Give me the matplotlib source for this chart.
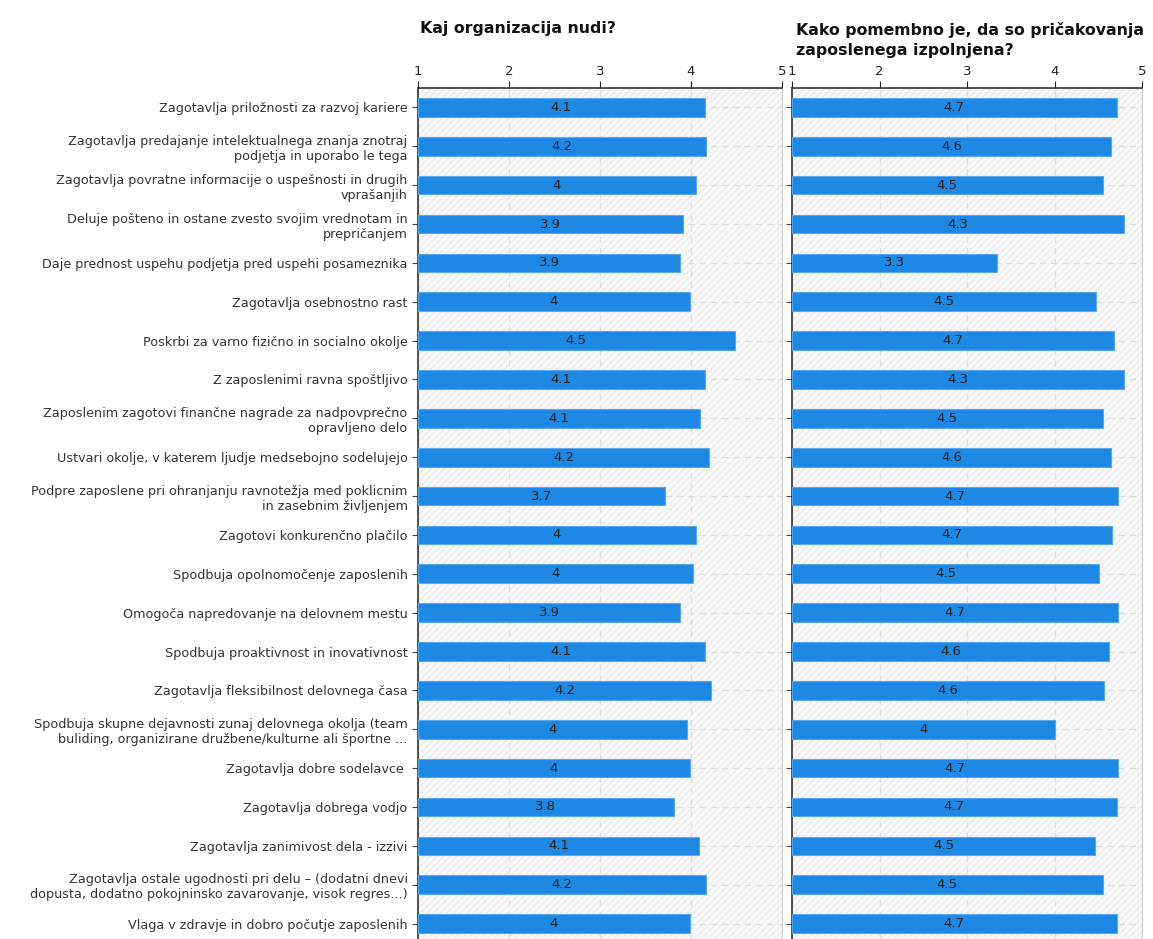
import matplotlib.pyplot as plt
import matplotlib.patches as mpatches

# categories (top to bottom)
categories = [
    "Zagotavlja priložnosti za razvoj kariere",
    "Zagotavlja predajanje intelektualnega znanja znotraj\npodjetja in uporabo le tega",
    "Zagotavlja povratne informacije o uspešnosti in drugih\nvprašanjih",
    "Deluje pošteno in ostane zvesto svojim vrednotam in\nprepričanjem",
    "Daje prednost uspehu podjetja pred uspehi posameznika",
    "Zagotavlja osebnostno rast",
    "Poskrbi za varno fizično in socialno okolje",
    "Z zaposlenimi ravna spoštljivo",
    "Zaposlenim zagotovi finančne nagrade za nadpovprečno\nopravljeno delo",
    "Ustvari okolje, v katerem ljudje medsebojno sodelujejo",
    "Podpre zaposlene pri ohranjanju ravnotežja med poklicnim\nin zasebnim življenjem",
    "Zagotovi konkurenčno plačilo",
    "Spodbuja opolnomočenje zaposlenih",
    "Omogoča napredovanje na delovnem mestu",
    "Spodbuja proaktivnost in inovativnost",
    "Zagotavlja fleksibilnost delovnega časa",
    "Spodbuja skupne dejavnosti zunaj delovnega okolja (team\nbuliding, organizirane družbene/kulturne ali športne ...",
    "Zagotavlja dobre sodelavce ",
    "Zagotavlja dobrega vodjo",
    "Zagotavlja zanimivost dela - izzivi",
    "Zagotavlja ostale ugodnosti pri delu – (dodatni dnevi\ndopusta, dodatno pokojninsko zavarovanje, visok regres...)",
    "Vlaga v zdravje in dobro počutje zaposlenih",
]

# left panel: what the organisation offers
offer_values = [4.15, 4.165, 4.05, 3.91, 3.88, 3.99, 4.48, 4.15, 4.10, 4.20, 3.71,
                4.05, 4.02, 3.88, 4.15, 4.22, 3.96, 3.99, 3.81, 4.09, 4.165, 3.99]
offer_labels = ["4.1", "4.2", "4", "3.9", "3.9", "4", "4.5", "4.1", "4.1", "4.2", "3.7",
                "4", "4", "3.9", "4.1", "4.2", "4", "4", "3.8", "4.1", "4.2", "4"]

# right panel: importance of meeting expectations
importance_values = [4.71, 4.65, 4.55, 4.79, 3.34, 4.47, 4.68, 4.79, 4.55, 4.65, 4.73,
                     4.66, 4.51, 4.73, 4.62, 4.57, 4.01, 4.73, 4.71, 4.46, 4.55, 4.71]
importance_labels = ["4.7", "4.6", "4.5", "4.3", "3.3", "4.5", "4.7", "4.3", "4.5", "4.6", "4.7",
                     "4.7", "4.5", "4.7", "4.6", "4.6", "4", "4.7", "4.7", "4.5", "4.5", "4.7"]

ticks = [1, 2, 3, 4, 5]
bar_color = "#1e88e5"

W, H = 1153, 939
fig = plt.figure(figsize=(W / 100, H / 100), dpi=100)
plt.rcParams['hatch.linewidth'] = 0.6
plt.rcParams['hatch.color'] = '#e4e4e4'

top = 1 - 88 / H
height = 855 / H
bottom = top - height
ax1 = fig.add_axes([418 / W, bottom, (782 - 418) / W, height])
ax2 = fig.add_axes([792 / W, bottom, (1142 - 792) / W, height])

ypos = list(range(len(categories)))


def style_panel(ax, values, labels):
    ax.set_facecolor('#f8f8f8')
    ax.add_patch(mpatches.Rectangle((0, 0), 1, 1, transform=ax.transAxes, fill=False,
                                    hatch='/////', edgecolor='#e6e6e6', lw=0, zorder=0))
    ax.barh(ypos, [v - 1 for v in values], left=1, height=0.48, color=bar_color,
            edgecolor='#5aa9ee', linewidth=0.8, zorder=3)
    for y, v, lab in zip(ypos, values, labels):
        ax.text((1 + v) / 2, y, lab, ha='center', va='center', fontsize=9.5,
                color='#222222', zorder=4)
    ax.set_xlim(1, 5)
    ax.set_ylim(len(categories) - 0.5, -0.5)
    ax.set_xticks(ticks)
    ax.set_xticklabels([str(t) for t in ticks])
    ax.xaxis.tick_top()
    ax.tick_params(axis='x', direction='out', length=5, labelsize=9.5, pad=2, colors='#222222')
    ax.tick_params(axis='y', length=4, color='#444444')
    ax.grid(True, axis='both', linestyle=(0, (5, 4)), color='#dddddd', linewidth=0.9, zorder=1)
    ax.set_axisbelow(True)
    for s in ['top', 'left']:
        ax.spines[s].set_color('#333333')
        ax.spines[s].set_linewidth(1.2)
    ax.spines['right'].set_color('#cfcfcf')
    ax.spines['bottom'].set_visible(False)


style_panel(ax1, offer_values, offer_labels)
ax1.set_yticks(ypos)
ax1.set_yticklabels(categories, fontsize=9.2, color='#333333', linespacing=1.2)

style_panel(ax2, importance_values, importance_labels)
ax2.set_yticks(ypos)
ax2.set_yticklabels([])

fig.text(420 / W, 1 - 28 / H, "Kaj organizacija nudi?", fontsize=11.3, fontweight='bold',
         color='#111111', va='center', ha='left')
fig.text(796 / W, 1 - 40 / H, "Kako pomembno je, da so pričakovanja\nzaposlenega izpolnjena?",
         fontsize=11.3, fontweight='bold', color='#111111', va='center', ha='left', linespacing=1.45)

fig.savefig("out.png", dpi=100)
